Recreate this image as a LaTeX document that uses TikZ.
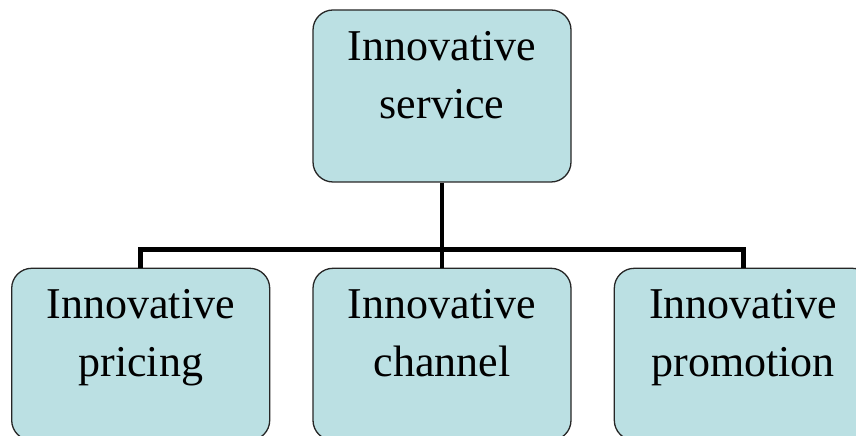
\documentclass[tikz,border=0pt]{standalone}
\usepackage{fontspec}
\setmainfont{Liberation Serif}
\usetikzlibrary{positioning,calc}
\definecolor{boxfill}{RGB}{187,224,227}
\newcommand{\boxtext}[1]{%
  \begin{minipage}[c][172pt][t]{258pt}\centering
    \vspace*{21pt}#1\end{minipage}}
\tikzset{
  unitbox/.style={draw=black!85, line width=1.3pt, fill=boxfill,
    rounded corners=20pt, inner sep=0pt, font=\fontsize{44}{58}\selectfont},
  conn/.style={line width=4.5pt},
}

\begin{document}
\begin{tikzpicture}
    \useasboundingbox (0,0) rectangle (856pt,436pt);
    \clip (0,0) rectangle (856pt,436pt);
    \node[unitbox] (serv) at (442pt,340pt) {\boxtext{Innovative\\service}};
    \node[unitbox] (chan) [below=85pt of serv] {\boxtext{Innovative\\channel}};
    \node[unitbox] (price) [left=42pt of chan] {\boxtext{Innovative\\pricing}};
    \node[unitbox] (promo) [right=42pt of chan] {\boxtext{Innovative\\promotion}};
    \coordinate (bus) at ($(chan.north)+(0,18pt)$);
    % tree connectors
    \draw[conn] (serv.south) -- (chan.north);
    \draw[conn] (price.north) -- (price.north |- bus) -- (promo.north |- bus) -- (promo.north);
\end{tikzpicture}
\end{document}
